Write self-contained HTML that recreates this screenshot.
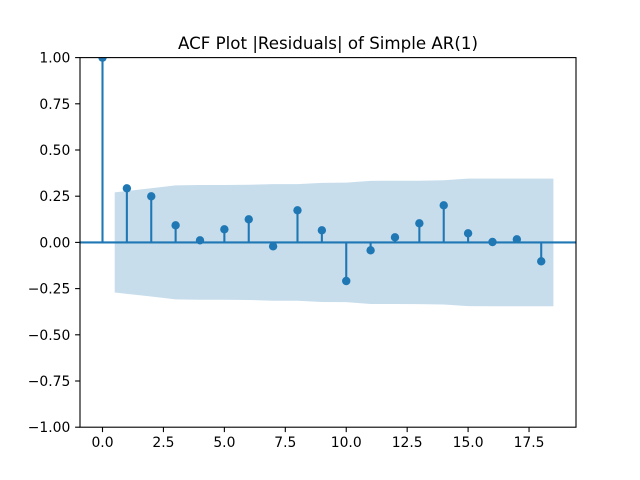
<!DOCTYPE html>
<html>
<head>
<meta charset="utf-8">
<style>
html,body{margin:0;padding:0;background:#fff;}
svg{display:block;}
text{font-family:"DejaVu Sans","Liberation Sans",sans-serif;fill:#000;}
</style>
</head>
<body>
<svg width="640" height="480" viewBox="0 0 640 480" xmlns="http://www.w3.org/2000/svg">
<defs>
<clipPath id="ax"><rect x="80" y="57.6" width="496" height="369.6"/></clipPath>
</defs>
<rect x="0" y="0" width="640" height="480" fill="#fff"/>
<g clip-path="url(#ax)">
<polygon fill="#1f77b4" fill-opacity="0.25" points="114.69,192.32 151.25,188.25 175.62,185.4 200.0,185.02 224.37,185.02 248.74,184.8 273.11,184.11 297.49,184.1 321.86,182.82 346.24,182.64 370.61,180.82 394.98,180.75 419.36,180.71 443.73,180.29 468.1,178.68 492.48,178.59 516.85,178.59 553.41,178.57 553.41,306.23 516.85,306.21 492.48,306.21 468.1,306.12 443.73,304.51 419.36,304.09 394.98,304.05 370.61,303.98 346.24,302.16 321.86,301.98 297.49,300.7 273.11,300.69 248.74,300.0 224.37,299.78 200.0,299.78 175.62,299.4 151.25,296.55 114.69,292.48"/>
<g stroke="#1f77b4" stroke-width="2.08">
<line x1="102.5" y1="242.4" x2="102.5" y2="57.6"/>
<line x1="126.87" y1="242.4" x2="126.87" y2="188.3"/>
<line x1="151.25" y1="242.4" x2="151.25" y2="196.3"/>
<line x1="175.62" y1="242.4" x2="175.62" y2="225.3"/>
<line x1="200.0" y1="242.4" x2="200.0" y2="240.3"/>
<line x1="224.37" y1="242.4" x2="224.37" y2="229.3"/>
<line x1="248.74" y1="242.4" x2="248.74" y2="219.3"/>
<line x1="273.11" y1="242.4" x2="273.11" y2="246.3"/>
<line x1="297.49" y1="242.4" x2="297.49" y2="210.3"/>
<line x1="321.86" y1="242.4" x2="321.86" y2="230.3"/>
<line x1="346.24" y1="242.4" x2="346.24" y2="281.0"/>
<line x1="370.61" y1="242.4" x2="370.61" y2="250.3"/>
<line x1="394.98" y1="242.4" x2="394.98" y2="237.3"/>
<line x1="419.36" y1="242.4" x2="419.36" y2="223.3"/>
<line x1="443.73" y1="242.4" x2="443.73" y2="205.3"/>
<line x1="468.1" y1="242.4" x2="468.1" y2="233.3"/>
<line x1="492.48" y1="242.4" x2="492.48" y2="242.0"/>
<line x1="516.85" y1="242.4" x2="516.85" y2="239.3"/>
<line x1="541.22" y1="242.4" x2="541.22" y2="261.3"/>
<line x1="80" y1="242.4" x2="576" y2="242.4"/>
</g>
<g fill="#1f77b4">
<circle cx="102.5" cy="57.6" r="4.2"/>
<circle cx="126.87" cy="188.3" r="4.2"/>
<circle cx="151.25" cy="196.3" r="4.2"/>
<circle cx="175.62" cy="225.3" r="4.2"/>
<circle cx="200.0" cy="240.3" r="4.2"/>
<circle cx="224.37" cy="229.3" r="4.2"/>
<circle cx="248.74" cy="219.3" r="4.2"/>
<circle cx="273.11" cy="246.3" r="4.2"/>
<circle cx="297.49" cy="210.3" r="4.2"/>
<circle cx="321.86" cy="230.3" r="4.2"/>
<circle cx="346.24" cy="281.0" r="4.2"/>
<circle cx="370.61" cy="250.3" r="4.2"/>
<circle cx="394.98" cy="237.3" r="4.2"/>
<circle cx="419.36" cy="223.3" r="4.2"/>
<circle cx="443.73" cy="205.3" r="4.2"/>
<circle cx="468.1" cy="233.3" r="4.2"/>
<circle cx="492.48" cy="242.0" r="4.2"/>
<circle cx="516.85" cy="239.3" r="4.2"/>
<circle cx="541.22" cy="261.3" r="4.2"/>
</g>
</g>
<!-- spines -->
<rect x="80" y="57.6" width="496" height="369.6" fill="none" stroke="#000" stroke-width="1.1"/>
<!-- y ticks -->
<g stroke="#000" stroke-width="1.1">
<line x1="75.1" y1="57.6" x2="80" y2="57.6"/>
<line x1="75.1" y1="103.8" x2="80" y2="103.8"/>
<line x1="75.1" y1="150" x2="80" y2="150"/>
<line x1="75.1" y1="196.2" x2="80" y2="196.2"/>
<line x1="75.1" y1="242.4" x2="80" y2="242.4"/>
<line x1="75.1" y1="288.6" x2="80" y2="288.6"/>
<line x1="75.1" y1="334.8" x2="80" y2="334.8"/>
<line x1="75.1" y1="381" x2="80" y2="381"/>
<line x1="75.1" y1="427.2" x2="80" y2="427.2"/>
<line x1="102.5" y1="427.2" x2="102.5" y2="432.1"/>
<line x1="163.43" y1="427.2" x2="163.43" y2="432.1"/>
<line x1="224.37" y1="427.2" x2="224.37" y2="432.1"/>
<line x1="285.3" y1="427.2" x2="285.3" y2="432.1"/>
<line x1="346.24" y1="427.2" x2="346.24" y2="432.1"/>
<line x1="407.17" y1="427.2" x2="407.17" y2="432.1"/>
<line x1="468.1" y1="427.2" x2="468.1" y2="432.1"/>
<line x1="529.04" y1="427.2" x2="529.04" y2="432.1"/>
</g>
<g font-size="13.89" text-anchor="end">
<text x="70.3" y="62.6">1.00</text>
<text x="70.3" y="108.8">0.75</text>
<text x="70.3" y="155">0.50</text>
<text x="70.3" y="201.2">0.25</text>
<text x="70.3" y="247.4">0.00</text>
<text x="70.3" y="293.6">−0.25</text>
<text x="70.3" y="339.8">−0.50</text>
<text x="70.3" y="386">−0.75</text>
<text x="70.3" y="432.2">−1.00</text>
</g>
<g font-size="13.89" text-anchor="middle">
<text x="102.5" y="447">0.0</text>
<text x="163.43" y="447">2.5</text>
<text x="224.37" y="447">5.0</text>
<text x="285.3" y="447">7.5</text>
<text x="346.24" y="447">10.0</text>
<text x="407.17" y="447">12.5</text>
<text x="468.1" y="447">15.0</text>
<text x="529.04" y="447">17.5</text>
</g>
<text x="328" y="49" font-size="16.67" text-anchor="middle">ACF Plot |Residuals| of Simple AR(1)</text>
</svg>
</body>
</html>
